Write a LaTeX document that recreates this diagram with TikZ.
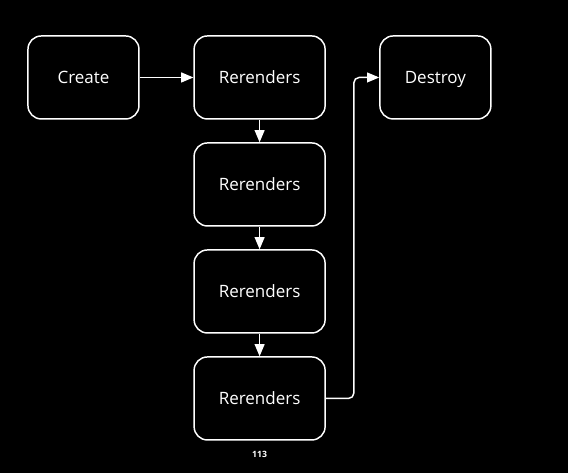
\documentclass[tikz,border=0pt]{standalone}
\usepackage{fontspec}
\setmainfont{Open Sans}
\usetikzlibrary{shapes,arrows,positioning}
\tikzstyle{arrow} = [line width=1.1pt,->,>=triangle 45,draw=white]
\tikzstyle{stagebox} = [rectangle, rounded corners=10pt, draw=white, line width=1.1pt, text=white, minimum height=62.25pt, text height=10.5pt, text depth=2pt, font=\fontsize{12.75}{15}\selectfont]

\begin{document}
\begin{tikzpicture}[node distance=18pt]

        \fill[black] (0,0) rectangle (426pt,-354.75pt);
        \useasboundingbox (0,0) rectangle (426pt,-354.75pt);

        \node (create) [stagebox, minimum width=83.25pt] at (62.6pt,-58.1pt) {Create};
        \node (r1) [stagebox, right=40.25pt of create, minimum width=98.25pt] {Rerenders};
        \node (destroy) [stagebox, right=40pt of r1, minimum width=83.25pt] {Destroy};

        \node (r2) [stagebox, below of=r1, yshift=-62.25pt, minimum width=98.25pt] {Rerenders};
        \node (r3) [stagebox, below of=r2, yshift=-62.25pt, minimum width=98.25pt] {Rerenders};
        \node (r4) [stagebox, below of=r3, yshift=-62.25pt, minimum width=98.25pt] {Rerenders};

        \node (pagenum) [below=4pt of r4, text=white, font=\fontsize{6.5}{7}\selectfont\bfseries] {113};

        \draw [arrow] (create) -- (r1);
        \draw [arrow] (r1) -- (r2);
        \draw [arrow] (r2) -- (r3);
        \draw [arrow] (r3) -- (r4);
        \draw [arrow, rounded corners=4pt] (r4.east) -- ++(21pt,0) |- (destroy.west);

    \end{tikzpicture}
\end{document}
